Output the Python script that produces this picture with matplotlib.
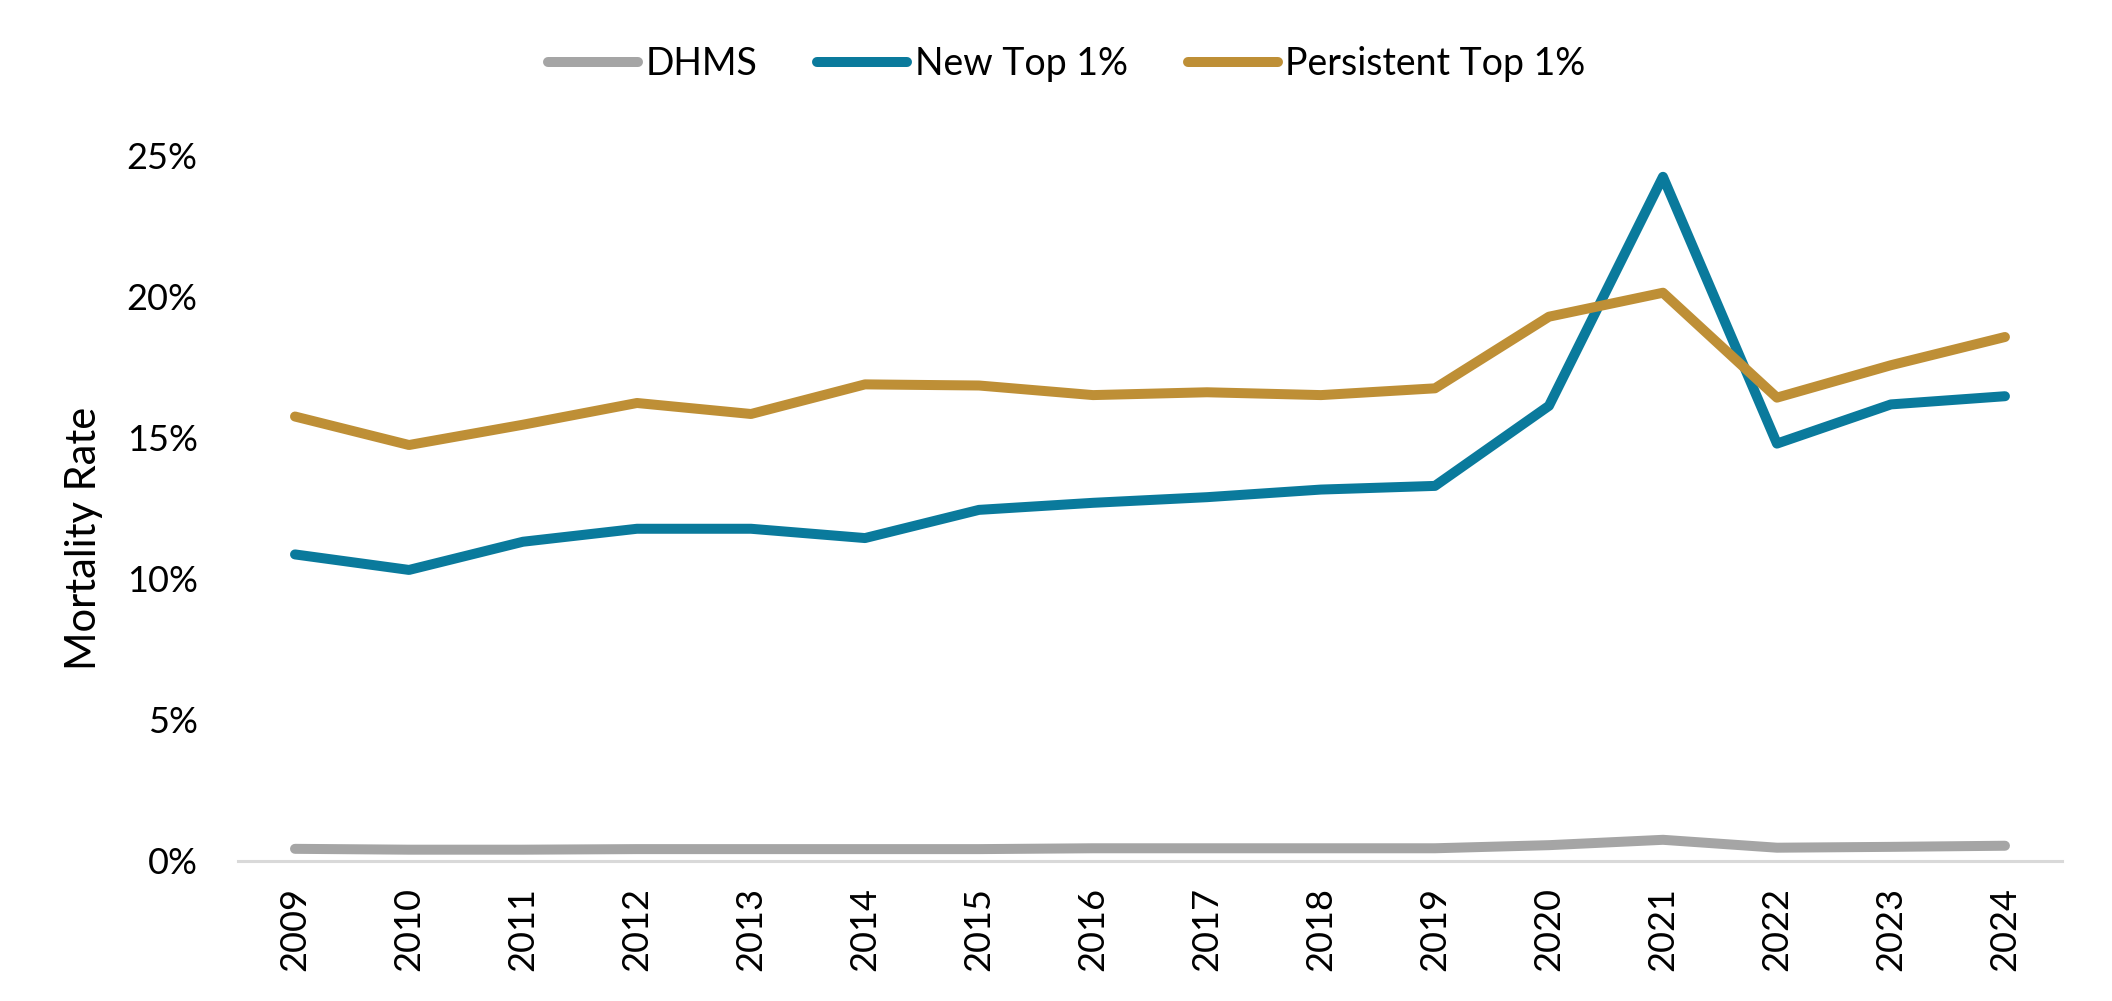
import numpy as np
import matplotlib.pyplot as plt
from matplotlib.ticker import PercentFormatter

years = [str(y) for y in range(2009, 2025)]
dhms = [0.43, 0.40, 0.40, 0.42, 0.42, 0.42, 0.42, 0.45, 0.45, 0.45, 0.45, 0.56, 0.75, 0.47, 0.50, 0.54]
new_top = [10.87, 10.32, 11.32, 11.78, 11.78, 11.45, 12.45, 12.70, 12.90, 13.17, 13.30, 16.14, 24.26, 14.80, 16.19, 16.48]
persistent_top = [15.76, 14.75, 15.47, 16.24, 15.85, 16.90, 16.86, 16.52, 16.62, 16.52, 16.76, 19.30, 20.15, 16.43, 17.58, 18.58]

plt.rcParams['font.family'] = ['Lato', 'DejaVu Sans']

fig = plt.figure(figsize=(21.12, 10.01), dpi=100)
ax = fig.add_axes([0.1127, 0.1399, 0.8636, 0.7043])

x = np.arange(len(years))
lw = 7.2
ax.plot(x, dhms, color='#A5A5A5', lw=lw, solid_capstyle='round', solid_joinstyle='round', label='DHMS')
ax.plot(x, new_top, color='#0A7A9C', lw=lw, solid_capstyle='round', solid_joinstyle='round', label='New Top 1%')
ax.plot(x, persistent_top, color='#BE8F36', lw=lw, solid_capstyle='round', solid_joinstyle='round', label='Persistent Top 1%')

ax.set_xlim(-0.5, len(years) - 0.5)
ax.set_ylim(0, 25)
ax.set_yticks([0, 5, 10, 15, 20, 25])
ax.yaxis.set_major_formatter(PercentFormatter(decimals=0))
ax.set_xticks(x)
ax.set_xticklabels(years, rotation=90)

for s in ['top', 'right', 'left']:
    ax.spines[s].set_visible(False)
ax.spines['bottom'].set_color('#D9D9D9')
ax.spines['bottom'].set_linewidth(2.2)

ax.tick_params(axis='both', length=0, labelsize=26, colors='black')
ax.tick_params(axis='y', pad=29)
ax.tick_params(axis='x', pad=19)

ax.set_ylabel('Mortality Rate', fontsize=30)
ax.yaxis.set_label_coords(-0.074, 0.458)

fig.legend(loc='center', bbox_to_anchor=(0.505, 0.936), ncol=3, frameon=False,
           fontsize=27, handlelength=2.4, handletextpad=0.2, columnspacing=1.6)

fig.savefig('out.png', dpi=100, facecolor='white')
